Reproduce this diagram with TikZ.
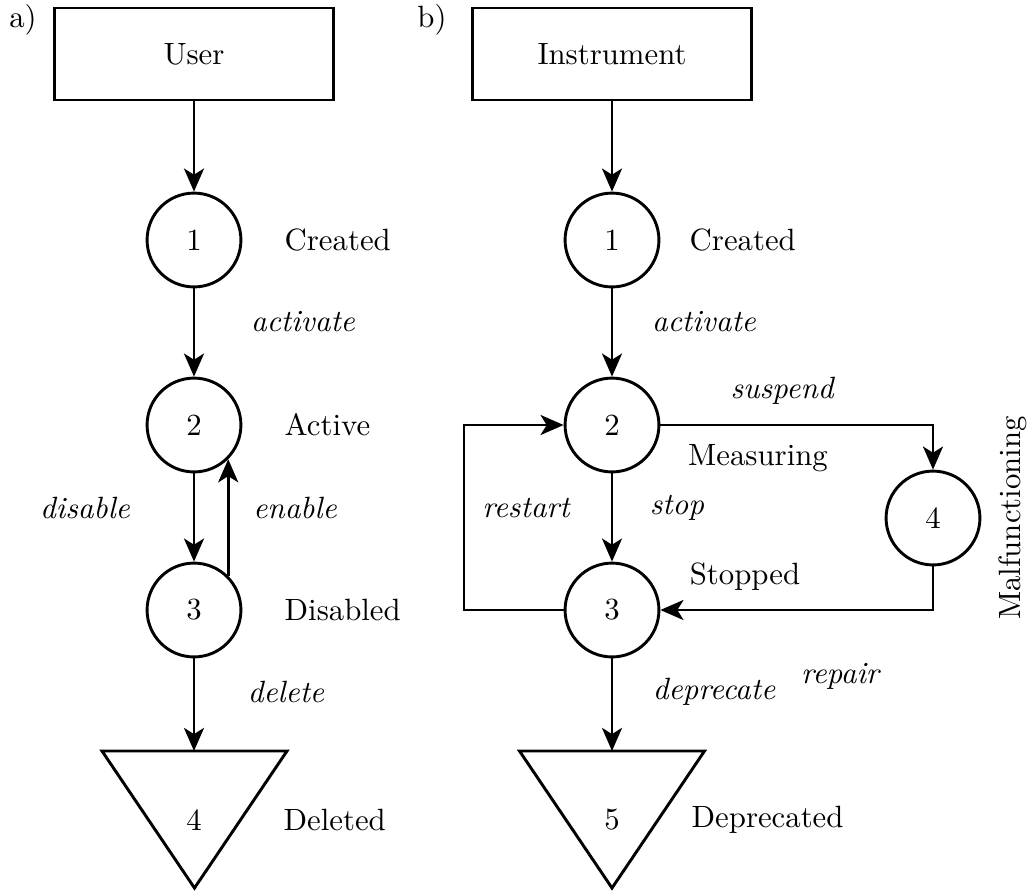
\documentclass[tikz,border=0pt]{standalone}
\usetikzlibrary{arrows.meta}

\begin{document}
\begin{tikzpicture}[x=0.325pt,y=-0.325pt,line width=0.95pt,
		arr/.style={-{Stealth[length=7.5pt,width=6.5pt,inset=2pt]}},
		circ/.style={draw,circle,minimum size=30.5pt,inner sep=0pt},
		entity/.style={draw,rectangle,minimum width=90.7pt,minimum height=29.9pt},
		act/.style={font=\itshape}]
		\useasboundingbox (0,0) rectangle (1031,890);
		
		% a) User
		\node (la) at (23,20) {a)};
		\node[entity] (user) at (194,54) {User};
		\node[circ] (a1) at (194,240) {1};
		\node[circ] (a2) at (194,425) {2};
		\node[circ] (a3) at (194,610) {3};
		\node (a4) at (194,820) {4};
		\coordinate (a4top) at (194,751);
		\draw (102,751) -- (287,751) -- (194.5,888) -- cycle;
		
		\foreach \n/\y/\t in {a1/240/Created, a2/425/Active, a3/610/Disabled}{
			\node (\n txt) at (273,\y) [anchor=west] {\t};
		}
		\node (a4txt) at (272,820) [anchor=west] {Deleted};
		
		\node[act] (aact) at (303,322) {activate};
		\node[act] (adis) at (85,508) {disable};
		\node[act] (aen) at (295,508) {enable};
		\node[act] (adel) at (286,692) {delete};
		
		\draw[arr] (user) -- (a1);
		\draw[arr] (a1) -- (a2);
		\draw[arr] (a2) -- (a3);
		\draw[arr] (a3.north east) -- (a2.south east);
		\draw[arr] (a3) -- (a4top);
		
		% b) Instrument
		\node (lb) at (432,20) {b)};
		\node[entity] (instr) at (612,54) {Instrument};
		\node[circ] (b1) at (612,240) {1};
		\node[circ] (b2) at (612,425) {2};
		\node[circ] (b3) at (612,610) {3};
		\node[circ] (b4) at (933,518) {4};
		\node (b5) at (612,820) {5};
		\coordinate (b5top) at (612,751);
		\coordinate (rl) at (464,0);
		\draw (519.5,751) -- (704.5,751) -- (612,888) -- cycle;
		
		\node (b1txt) at (678,240) [anchor=west] {Created};
		\node (b2txt) at (758,458) {Measuring};
		\node (b3txt) at (745,577) {Stopped};
		\node (b4txt) at (1013,518) [rotate=90] {Malfunctioning};
		\node (b5txt) at (680,820) [anchor=west] {Deprecated};
		
		\node[act] (bact) at (704,322) {activate};
		\node[act] (bsus) at (782,391) {suspend};
		\node[act] (bres) at (526,508) {restart};
		\node[act] (bstop) at (677,508) {stop};
		\node[act] (brep) at (840,676) {repair};
		\node[act] (bdep) at (714,692) {deprecate};
		
		\draw[arr] (instr) -- (b1);
		\draw[arr] (b1) -- (b2);
		\draw[arr] (b2) -- (b3);
		\draw[arr] (b2) -| (b4);
		\draw[arr] (b4) |- (b3);
		\draw[arr] (b3) -- (b3 -| rl) |- (b2);
		\draw[arr] (b3) -- (b5top);
	\end{tikzpicture}
\end{document}
